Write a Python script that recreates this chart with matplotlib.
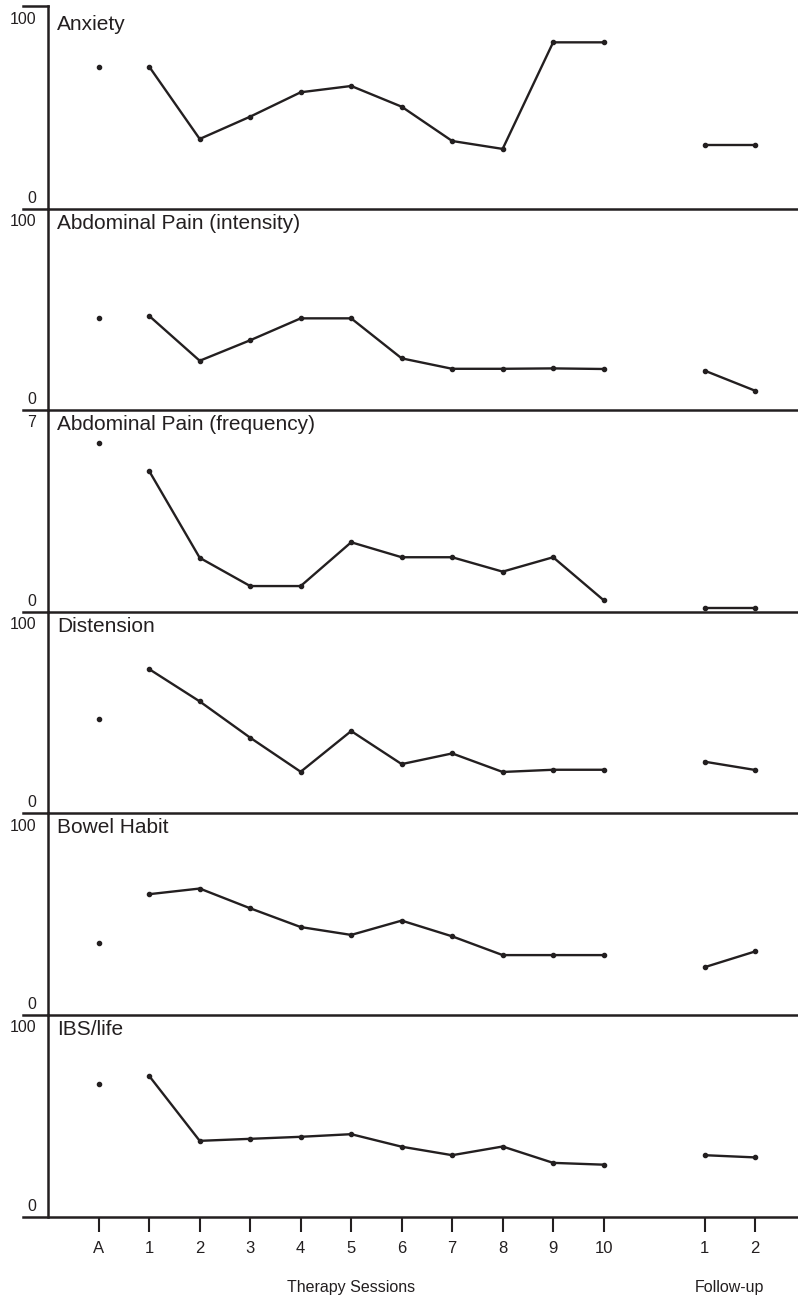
import matplotlib
matplotlib.use("Agg")
import matplotlib.pyplot as plt
import matplotlib.transforms as mtransforms
import numpy as np

plt.rcParams['font.family'] = ['Liberation Sans', 'DejaVu Sans']

ink = '#231f20'

# Datos
titles = ["Anxiety", "Abdominal Pain (intensity)", "Abdominal Pain (frequency)",
          "Distension", "Bowel Habit", "IBS/life"]
y_top = [100, 100, 7, 100, 100, 100]

baseline = [70.1, 45.6, 5.87, 46.6, 35.7, 65.7]

anxiety = [70.1, 34.5, 45.5, 57.5, 60.6, 50.4, 33.5, 29.6, 82.1, 82.1]
pain_int = [46.8, 24.5, 34.7, 45.6, 45.6, 25.7, 20.5, 20.5, 20.7, 20.4]
pain_freq = [4.88, 1.87, 0.89, 0.89, 2.41, 1.89, 1.89, 1.39, 1.89, 0.40]
distension = [71.5, 55.5, 37.5, 20.6, 40.8, 24.4, 29.7, 20.5, 21.6, 21.6]
bowel = [59.9, 62.7, 52.9, 43.6, 39.7, 46.8, 39.0, 29.7, 29.7, 29.7]
ibs_life = [69.8, 37.7, 38.7, 39.7, 41.0, 34.8, 30.6, 34.9, 26.8, 25.9]
sessions = [anxiety, pain_int, pain_freq, distension, bowel, ibs_life]

followup = [[31.5, 31.5], [19.6, 9.6], [0.12, 0.12],
            [25.6, 21.5], [23.7, 31.5], [30.6, 29.5]]

tick_labels = ["A", "1", "2", "3", "4", "5", "6", "7", "8", "9", "10", "1", "2"]

# posiciones en el eje x
x_base = 0
x_sess = np.arange(1, 11)
x_fu = np.array([12, 13])

W, H = 798, 1301
fig = plt.figure(figsize=(W / 100, H / 100), dpi=100)

bounds = [6, 209, 410, 611.7, 813.3, 1015, 1217]
left = 23 / W
width = (W - 23) / W

axes = []
for i in range(6):
    top_px, bot_px = bounds[i], bounds[i + 1]
    hpx = bot_px - top_px
    ax = fig.add_axes([left, 1 - bot_px / H, width, hpx / H])
    ax.patch.set_visible(False)
    ax.set_xlim(-1.5, 13.85)
    ax.set_ylim(0, y_top[i])

    for s in ['top', 'right']:
        ax.spines[s].set_visible(False)
    ax.spines['left'].set_position(('data', -1))
    for s in ['left', 'bottom']:
        ax.spines[s].set_linewidth(1.8)
        ax.spines[s].set_color(ink)
    ax.set_yticks([])

    # punto basal, sesiones y seguimiento
    ax.plot([x_base], [baseline[i]], 'o', color=ink, markersize=3.0, clip_on=False)
    ax.plot(x_sess, sessions[i], '-o', color=ink, lw=1.7, markersize=3.0, clip_on=False)
    ax.plot(x_fu, followup[i], '-o', color=ink, lw=1.7, markersize=3.0, clip_on=False)

    # etiquetas del eje y
    xr = (36 - 23) / (W - 23)
    ax.text(xr, 1 - 13 / hpx, str(y_top[i]), transform=ax.transAxes,
            ha='right', va='center', fontsize=11.5, color=ink)
    ax.text(xr, 10.5 / hpx, "0", transform=ax.transAxes,
            ha='right', va='center', fontsize=11.5, color=ink)

    off = 24 if i == 0 else 20
    ax.text((57 - 23) / (W - 23), 1 - off / hpx, titles[i], transform=ax.transAxes,
            ha='left', va='baseline', fontsize=15, color=ink)

    if i < 5:
        ax.set_xticks([])
    axes.append(ax)

# línea corta arriba del primer panel
axes[0].plot([0, (48 - 23) / (W - 23)], [1, 1], color=ink, lw=1.8,
             transform=axes[0].transAxes, clip_on=False)

ax = axes[-1]
ax.set_xticks(list(range(0, 11)) + list(x_fu))
ax.set_xticklabels(tick_labels, fontsize=12, color=ink)
ax.tick_params(axis='x', length=11, width=1.5, pad=6.5, color=ink)

trans = mtransforms.blended_transform_factory(ax.transData, ax.transAxes)
hpx = bounds[6] - bounds[5]
ax.text(5, -(1292 - 1217) / hpx, "Therapy Sessions", transform=trans,
        ha='center', va='baseline', fontsize=11.5, color=ink)
ax.text(12.5, -(1292 - 1217) / hpx, "Follow-up", transform=trans,
        ha='center', va='baseline', fontsize=11.5, color=ink)

fig.savefig("out.png", dpi=100, facecolor='white')
